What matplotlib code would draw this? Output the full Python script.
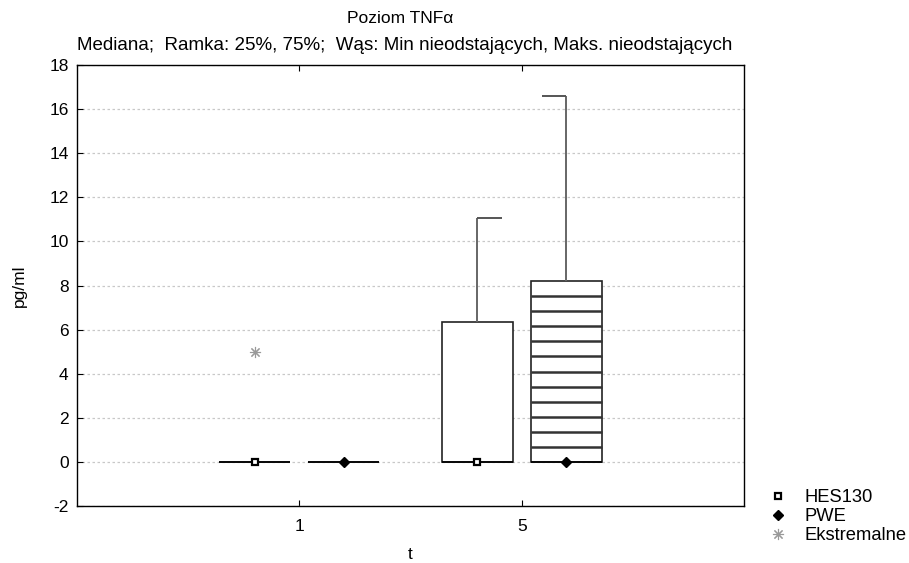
import numpy as np
import matplotlib.pyplot as plt
from matplotlib.lines import Line2D

plt.rcParams['font.family'] = ['Liberation Sans', 'DejaVu Sans']
plt.rcParams['axes.unicode_minus'] = False

# data
groups = ['1', '5']
hes_median = [0.0, 0.0]
hes_q1 = [0.0, 0.0]
hes_q3 = [0.0, 6.35]
hes_min = [0.0, 0.0]
hes_max = [0.0, 11.05]

pwe_median = [0.0, 0.0]
pwe_q1 = [0.0, 0.0]
pwe_q3 = [0.0, 8.2]
pwe_min = [0.0, 0.0]
pwe_max = [0.0, 16.6]

hes_outlier_group = [0]
hes_outlier_value = [5.0]

fig = plt.figure(figsize=(9.09, 5.63), dpi=100)
ax = fig.add_axes([0.0847, 0.1012, 0.7338, 0.7833])

pos = np.arange(1, len(groups) + 1)
offset = 0.2
width = 0.32
cap = 0.11
fs = 12.5


def draw_boxes(x, q1, q3, med, lo, hi, marker, hatched, cap_dir):
    for i in range(len(x)):
        ax.bar(x[i], q3[i] - q1[i], width=width, bottom=q1[i],
               facecolor='white', edgecolor='#222222', linewidth=1.2, zorder=2)
        if hatched and q3[i] > q1[i]:
            ys = np.linspace(q1[i], q3[i], 13)[1:-1]
            ax.hlines(ys, x[i] - width / 2, x[i] + width / 2,
                      color='#333333', linewidth=1.8, zorder=3)
        ax.hlines(med[i], x[i] - width / 2, x[i] + width / 2,
                  color='black', linewidth=1.2, zorder=3)
        if hi[i] > q3[i]:
            ax.vlines(x[i], q3[i], hi[i], color='#666666', linewidth=1.4, zorder=2)
            ax.hlines(hi[i], x[i], x[i] + cap_dir * cap, color='#555555',
                      linewidth=1.4, zorder=2)
        if lo[i] < q1[i]:
            ax.vlines(x[i], lo[i], q1[i], color='#666666', linewidth=1.4, zorder=2)
            ax.hlines(lo[i], x[i], x[i] + cap_dir * cap, color='#555555',
                      linewidth=1.4, zorder=2)
    ax.plot(x, med, linestyle='none', zorder=4, **marker)


hes_mk = dict(marker='s', markersize=5, markerfacecolor='white',
              markeredgecolor='black', markeredgewidth=1.6)
pwe_mk = dict(marker='D', markersize=5, markerfacecolor='black',
              markeredgecolor='black')
ext_mk = dict(marker=(8, 2, 0), markersize=8, color='#9a9a9a',
              markeredgewidth=0.8, linestyle='none')

draw_boxes(pos - offset, hes_q1, hes_q3, hes_median, hes_min, hes_max,
           hes_mk, False, 1)
draw_boxes(pos + offset, pwe_q1, pwe_q3, pwe_median, pwe_min, pwe_max,
           pwe_mk, True, -1)

ax.plot(pos[hes_outlier_group] - offset, hes_outlier_value, zorder=4, **ext_mk)

ax.set_xlim(0, 3)
ax.set_ylim(-2, 18)
ax.set_yticks(np.arange(-2, 19, 2))
ax.set_xticks(pos)
ax.set_xticklabels(groups)
ax.tick_params(axis='both', direction='in', labelsize=fs, length=4, width=0.8)
ax.tick_params(axis='x', top=True, pad=9)
ax.tick_params(axis='y', pad=6)
ax.yaxis.grid(True, linestyle=(0, (2, 2)), color='#c8c8c8', linewidth=0.9)
ax.set_axisbelow(True)
for s in ax.spines.values():
    s.set_linewidth(1.0)

ax.set_xlabel('t', fontsize=fs, labelpad=10)
ax.set_ylabel('pg/ml', fontsize=fs, labelpad=16)

fig.text(0.44, 0.967, 'Poziom TNFα', ha='center', va='center', fontsize=fs)
fig.text(0.445, 0.92,
         'Mediana;  Ramka: 25%, 75%;  Wąs: Min nieodstających, Maks. nieodstających',
         ha='center', va='center', fontsize=13.5)

handles = [Line2D([], [], linestyle='none', **hes_mk),
           Line2D([], [], linestyle='none', **pwe_mk),
           Line2D([], [], **ext_mk)]
fig.legend(handles, ['HES130', 'PWE', 'Ekstremalne'], loc='upper left',
           bbox_to_anchor=(0.846, 0.1314), frameon=False, fontsize=13.2,
           handletextpad=0.95, labelspacing=0.12, borderaxespad=0, borderpad=0,
           handlelength=1.0)

fig.savefig('out.png', dpi=100)
